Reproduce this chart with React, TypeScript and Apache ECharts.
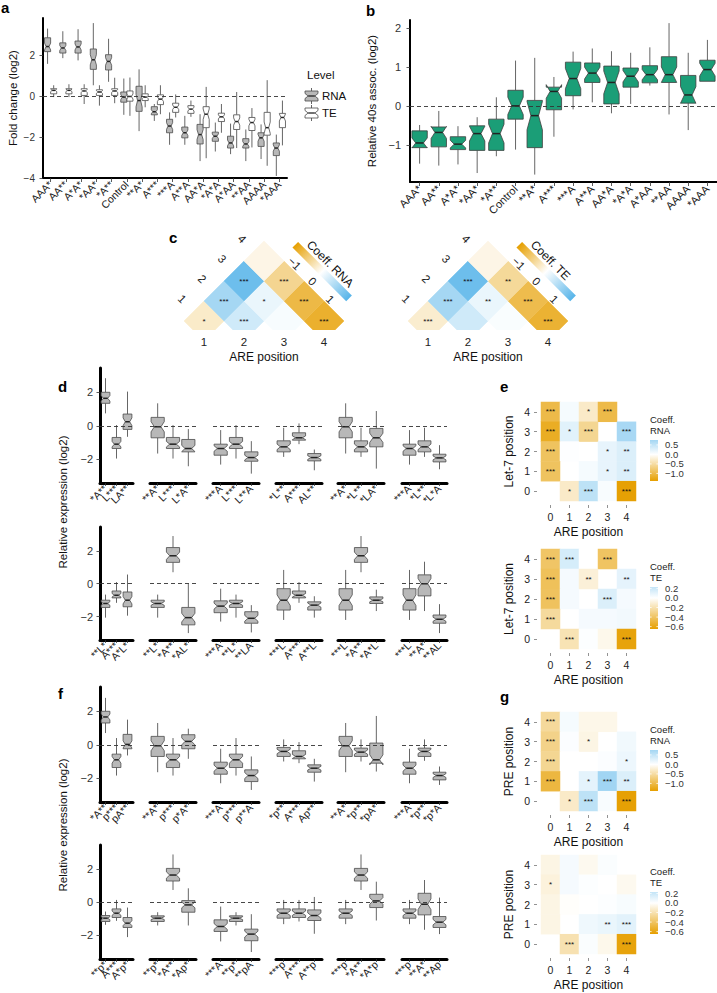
import React, { useEffect, useRef } from "react";
import * as echarts from "echarts";

const FONT = '"Liberation Sans", Arial, Helvetica, sans-serif';
const ORANGE = "#E69F00";
const BLUE = "#56B4E9";
const GREY_FILL = "#b8b8b8";
const GREEN_FILL = "#1b9e77";

// ---------------- panel a / b ----------------
const A_CATS = ["AAA*", "AA**", "A*A*", "*AA*", "*A**", "Control", "**A*", "A***", "***A", "A**A", "AA*A", "*A*A", "A*AA", "**AA", "AAAA", "*AAA"];
const A_TICKS = [-4, -2, 0, 2];
const B_TICKS = [-1, 0, 1, 2];
// each entry: [lower whisker, Q1, median, Q3, upper whisker]
const A_RNA = [
  [1.6, 2.2, 2.45, 2.88, 3.33],
  [1.88, 2.13, 2.38, 2.63, 3.2],
  [1.77, 2.13, 2.43, 2.72, 3.3],
  [0.55, 1.33, 1.8, 2.33, 3.6],
  [0.72, 1.3, 1.72, 2.05, 2.83],
  [-0.9, -0.28, -0.03, 0.22, 0.88],
  [-1.7, -0.73, -0.2, 0.5, 1.33],
  [-1.2, -0.9, -0.75, -0.5, -0.37],
  [-2.37, -1.78, -1.45, -1.12, -0.78],
  [-2.37, -2.03, -1.78, -1.5, -0.95],
  [-3.17, -2.33, -1.87, -1.37, -0.87],
  [-2.7, -2.2, -1.95, -1.75, -1.28],
  [-2.83, -2.53, -2.28, -1.95, -1.33],
  [-3.17, -2.53, -2.33, -2.07, -1.62],
  [-3.07, -2.45, -2.03, -1.78, -1.37],
  [-3.9, -2.9, -2.53, -2.28, -1.87],
];
const A_TE = [
  [-0.03, 0.13, 0.3, 0.38, 0.55],
  [-0.03, 0.13, 0.3, 0.38, 0.6],
  [-0.37, 0.05, 0.27, 0.38, 0.6],
  [-0.45, 0.05, 0.22, 0.33, 0.55],
  [-0.33, 0.05, 0.27, 0.38, 0.92],
  [-0.95, -0.23, 0, 0.27, 0.93],
  [-0.53, -0.2, -0.03, 0.13, 0.55],
  [-0.87, -0.4, -0.13, 0.08, 0.55],
  [-1.03, -0.78, -0.53, -0.33, 0.1],
  [-1.0, -0.83, -0.62, -0.45, -0.2],
  [-3.03, -1.53, -0.87, -0.5, 0.47],
  [-1.78, -1.23, -1.0, -0.82, -0.37],
  [-2.53, -1.62, -1.23, -0.9, 0.22],
  [-2.5, -1.67, -1.28, -1.03, -0.57],
  [-3.4, -1.9, -1.53, -0.78, 0.8],
  [-2.4, -1.53, -1.03, -0.83, -0.2],
];
const B_40S = [
  [-1.48, -1.07, -0.95, -0.64, -0.49],
  [-1.53, -1.05, -0.68, -0.54, -0.13],
  [-1.5, -1.12, -0.98, -0.79, -0.52],
  [-1.72, -1.14, -0.71, -0.51, -0.29],
  [-1.29, -1.14, -0.71, -0.34, 0.22],
  [-1.12, -0.34, 0, 0.4, 1.16],
  [-1.76, -1.07, -0.25, 0.14, 1.23],
  [-0.79, -0.1, 0.37, 0.48, 0.74],
  [-0.09, 0.26, 0.7, 1.12, 1.39],
  [0.09, 0.6, 0.84, 1.1, 1.47],
  [-0.19, 0.05, 0.6, 1.02, 1.4],
  [0.05, 0.48, 0.76, 0.97, 1.36],
  [0.52, 0.59, 0.8, 1.03, 1.5],
  [-0.22, 0.6, 0.8, 1.26, 2.12],
  [-0.62, 0.07, 0.28, 0.78, 1.36],
  [0.63, 0.63, 0.93, 1.17, 1.69],
];

// ---------------- panel c ----------------
// [row, col, coefficient, stars]
const C_RNA = [
  [1, 1, -0.32, "*"], [2, 2, 0.43, "***"], [3, 3, 0.07, ""], [4, 4, -1.23, "***"],
  [1, 2, 0.8, "***"], [2, 3, 0.19, "*"], [3, 4, -1.09, "***"],
  [1, 3, 1.3, "***"], [2, 4, -0.65, "***"],
  [1, 4, -0.15, ""],
];
const C_TE = [
  [1, 1, -0.28, "***"], [2, 2, 0.43, ""], [3, 3, 0.05, ""], [4, 4, -1.2, "***"],
  [1, 2, 0.8, "***"], [2, 3, 0.19, "**"], [3, 4, -1.05, "***"],
  [1, 3, 1.3, "***"], [2, 4, -0.6, "**"],
  [1, 4, -0.15, ""],
];
const C_POSITIONS = ["1", "2", "3", "4"];
const C_LEGEND_TICKS = [-1, 0, 1];
const C_LIMIT = 1.5;

// ---------------- panels d / f ----------------
const D_TOP_LABELS = [
  ["*A**", "L***", "LA**"], ["**A*", "L***", "L*A*"], ["***A", "L***", "L**A"],
  ["*L**", "A***", "AL**"], ["**A*", "*L**", "*LA*"], ["***A", "*L**", "*L*A"],
];
const D_TOP_STATS = [
  [[0.74, 1.34, 1.64, 2.0, 2.84], [-1.96, -1.36, -1.1, -0.7, 0.04], [-0.66, -0.22, 0.24, 0.7, 2.04]],
  [[-1.66, -0.72, -0.06, 0.5, 1.34], [-1.96, -1.36, -1.1, -0.7, 0.04], [-2.42, -1.56, -1.36, -0.82, -0.2]],
  [[-2.32, -1.76, -1.36, -1.1, -0.26], [-1.96, -1.36, -1.1, -0.7, 0.04], [-2.86, -2.12, -1.9, -1.56, -0.92]],
  [[-1.86, -1.56, -1.26, -0.9, -0.12], [-1.1, -0.86, -0.72, -0.42, 0.14], [-2.66, -2.1, -1.9, -1.66, -1.42]],
  [[-1.66, -0.72, -0.06, 0.5, 1.34], [-1.86, -1.56, -1.26, -0.9, -0.12], [-2.56, -1.26, -0.72, -0.16, 0.88]],
  [[-2.32, -1.76, -1.36, -1.1, -0.26], [-1.86, -1.56, -1.26, -0.9, -0.12], [-2.6, -2.16, -1.92, -1.7, -1.16]],
];
const D_BOT_LABELS = [
  ["**L*", "A***", "A*L*"], ["**L*", "*A**", "*AL*"], ["***A", "**L*", "**LA"],
  ["***L", "A***", "A**L"], ["***L", "*A**", "*A*L"], ["***L", "**A*", "**AL"],
];
const D_BOT_STATS = [
  [[-2.06, -1.44, -1.2, -1.0, -0.66], [-1.16, -0.86, -0.7, -0.44, 0.1], [-1.94, -1.4, -1.0, -0.5, 0.56]],
  [[-2.06, -1.44, -1.2, -1.0, -0.66], [0.7, 1.3, 1.7, 2.2, 2.9], [-3.0, -2.5, -2.06, -1.44, 0]],
  [[-2.3, -1.76, -1.36, -1.04, -0.3], [-2.06, -1.44, -1.2, -1.0, -0.66], [-2.96, -2.4, -2.1, -1.7, -1.3]],
  [[-2.2, -1.6, -1.0, -0.3, 0.84], [-1.16, -0.86, -0.7, -0.44, 0.1], [-2.06, -1.6, -1.3, -1.1, -0.76]],
  [[-2.2, -1.6, -1.0, -0.3, 0.84], [0.7, 1.3, 1.7, 2.2, 2.9], [-1.66, -1.2, -1.0, -0.8, -0.36]],
  [[-2.2, -1.6, -1.0, -0.3, 0.84], [-1.66, -0.74, 0, 0.54, 1.34], [-3.0, -2.4, -2.16, -1.9, -1.24]],
];
const F_TOP_LABELS = [
  ["*A**", "p***", "pA**"], ["**A*", "p***", "p*A*"], ["***A", "p***", "p**A"],
  ["*p**", "A***", "Ap**"], ["**A*", "*p**", "*pA*"], ["***A", "*p**", "*p*A"],
];
const F_TOP_STATS = [
  [[0.7, 1.3, 1.66, 2.0, 2.8], [-1.84, -1.36, -0.9, -0.56, 0.4], [-0.64, -0.24, 0.02, 0.62, 1.5]],
  [[-1.64, -0.7, -0.06, 0.5, 1.3], [-1.84, -1.36, -0.9, -0.56, 0.4], [-0.84, -0.24, 0.2, 0.6, 0.96]],
  [[-2.3, -1.76, -1.4, -1.04, -0.24], [-1.84, -1.36, -0.9, -0.56, 0.4], [-2.7, -2.2, -1.84, -1.5, -0.7]],
  [[-1.0, -0.7, -0.4, -0.16, 0.32], [-1.1, -0.84, -0.7, -0.36, 0.16], [-2.2, -1.64, -1.4, -1.2, -0.84]],
  [[-1.64, -0.7, -0.06, 0.5, 1.3], [-1.0, -0.7, -0.44, -0.2, 0.32], [-1.6, -1.1, -0.9, 0.1, 1.72]],
  [[-2.3, -1.76, -1.4, -1.04, -0.24], [-0.96, -0.7, -0.4, -0.2, 0.32], [-2.4, -2.1, -1.84, -1.64, -1.3]],
];
const F_BOT_LABELS = [
  ["**p*", "A***", "A*p*"], ["**p*", "*A**", "*Ap*"], ["***A", "**p*", "**pA"],
  ["***p", "A***", "A**p"], ["***p", "*A**", "*A*p"], ["***p", "**A*", "**Ap"],
];
const F_BOT_STATS = [
  [[-1.36, -1.16, -0.96, -0.8, -0.56], [-1.12, -0.92, -0.66, -0.4, 0.14], [-2.1, -1.52, -1.26, -0.92, -0.32]],
  [[-1.4, -1.16, -0.96, -0.82, -0.6], [0.74, 1.28, 1.64, 2.04, 2.88], [-1.4, -0.6, -0.16, 0.1, 0.84]],
  [[-2.36, -1.76, -1.46, -1.06, -0.26], [-1.4, -1.16, -0.96, -0.82, -0.6], [-3.0, -2.32, -1.92, -1.62, -0.72]],
  [[-1.32, -0.96, -0.66, -0.4, 0.14], [-1.16, -0.92, -0.66, -0.4, 0.14], [-1.9, -1.1, -0.8, -0.46, 0.32]],
  [[-1.32, -0.96, -0.66, -0.4, 0.14], [0.74, 1.28, 1.64, 2.04, 2.88], [-1.1, -0.32, 0.08, 0.48, 1.24]],
  [[-1.32, -0.96, -0.66, -0.4, 0.14], [-1.66, -0.76, -0.12, 0.54, 1.34], [-1.92, -1.52, -1.2, -0.86, 0.28]],
];
const DF_TICKS = [-2, 0, 2];

// ---------------- panels e / g ----------------
const POSITIONS = ["0", "1", "2", "3", "4"];
// [ARE position, second element position, coefficient, stars]
const E_RNA = [
  [0, 4, -1.0, "***"], [1, 4, 0.08, ""], [2, 4, -0.3, "*"], [3, 4, -1.0, "***"],
  [0, 3, -1.2, "***"], [1, 3, 0.25, "*"], [2, 3, -0.6, "***"], [4, 3, 0.72, "***"],
  [0, 2, -0.88, "***"], [1, 2, 0.02, ""], [3, 2, 0.2, "*"], [4, 2, 0.3, "**"],
  [0, 1, -0.88, "***"], [2, 1, 0.08, ""], [3, 1, 0.2, "*"], [4, 1, 0.3, "**"],
  [1, 0, -0.3, "*"], [2, 0, 0.55, "***"], [3, 0, 0.06, ""], [4, 0, -1.38, "***"],
];
const E_TE = [
  [0, 4, -0.39, "***"], [1, 4, 0.16, "***"], [2, 4, 0.0, ""], [3, 4, -0.4, "***"],
  [0, 3, -0.42, "***"], [1, 3, 0.04, ""], [2, 3, -0.1, "**"], [4, 3, 0.1, "**"],
  [0, 2, -0.41, "***"], [1, 2, 0.04, ""], [3, 2, 0.14, "***"], [4, 2, 0.04, ""],
  [0, 1, -0.25, "***"], [2, 1, 0.04, ""], [3, 1, 0.04, ""], [4, 1, 0.05, ""],
  [1, 0, -0.19, "***"], [2, 0, 0.01, ""], [3, 0, -0.05, ""], [4, 0, -0.62, "***"],
];
const G_RNA = [
  [0, 4, -0.55, "***"], [1, 4, 0.08, ""], [2, 4, -0.12, ""], [3, 4, -0.12, ""],
  [0, 3, -0.65, "***"], [1, 3, 0.03, ""], [2, 3, -0.15, "*"], [4, 3, 0.12, ""],
  [0, 2, -0.6, "***"], [1, 2, 0.0, ""], [3, 2, 0.03, ""], [4, 2, 0.15, "*"],
  [0, 1, -1.05, "***"], [2, 1, 0.22, "*"], [3, 1, 0.78, "***"], [4, 1, 0.3, "**"],
  [1, 0, -0.3, "*"], [2, 0, 0.55, "***"], [3, 0, 0.06, ""], [4, 0, -1.38, "***"],
];
const G_TE = [
  [0, 4, -0.07, ""], [1, 4, 0.04, ""], [2, 4, -0.04, ""], [3, 4, 0.02, ""],
  [0, 3, -0.09, "*"], [1, 3, 0.04, ""], [2, 3, 0.01, ""], [4, 3, -0.04, ""],
  [0, 2, -0.07, ""], [1, 2, -0.01, ""], [3, 2, 0.01, ""], [4, 2, 0.03, ""],
  [0, 1, -0.07, ""], [2, 1, 0.06, ""], [3, 1, 0.08, "**"], [4, 1, 0.11, "***"],
  [1, 0, -0.2, "***"], [2, 0, 0.02, ""], [3, 0, -0.05, ""], [4, 0, -0.62, "***"],
];
const RNA_RANGE = [-1.4, 0.76];
const TE_RANGE = [-0.65, 0.23];
const RNA_LEGEND_TICKS = [0.5, 0.0, -0.5, -1.0];
const TE_LEGEND_TICKS = [0.2, 0.0, -0.2, -0.4, -0.6];

// ---------------- helpers ----------------
const fmt = (v: number) => (v < 0 ? "\u2212" + Math.abs(v) : String(v));
const fmt1 = (v: number) => (v < 0 ? "\u2212" + Math.abs(v).toFixed(1) : v.toFixed(1));

function hexRgb(h: string) {
  const n = parseInt(h.slice(1), 16);
  return [(n >> 16) & 255, (n >> 8) & 255, n & 255];
}
function mix(a: string, b: string, t: number) {
  const A = hexRgb(a), B = hexRgb(b);
  const c = A.map((x, i) => Math.round(x + (B[i] - x) * t));
  return `rgb(${c[0]},${c[1]},${c[2]})`;
}
function divColor(v: number, M: number) {
  const t = Math.max(-1, Math.min(1, v / M));
  return t < 0 ? mix("#ffffff", ORANGE, -t) : mix("#ffffff", BLUE, t);
}

function makeBoxRender(offset: number, widthFrac: number, fill: string, stroke: string, notchK: number) {
  return (params: any, api: any) => {
    const i = api.value(0);
    const lo = api.value(1), q1 = api.value(2), md = api.value(3), q3 = api.value(4), hi = api.value(5);
    const band = api.size([1, 0])[0];
    const cx = api.coord([i, md])[0] + offset * band;
    const hw = (widthFrac * band) / 2;
    const y = (v: number) => api.coord([i, v])[1];
    const nk = notchK * (q3 - q1);
    const L = cx - hw, R = cx + hw, ind = hw * 0.5;
    const yq1 = y(q1), yq3 = y(q3), ymd = y(md), ynu = y(md + nk), ynl = y(md - nk);
    const pts = [[L, yq3], [L, ynu], [L + ind, ymd], [L, ynl], [L, yq1], [R, yq1], [R, ynl], [R - ind, ymd], [R, ynu], [R, yq3]];
    return {
      type: "group",
      children: [
        { type: "line", shape: { x1: cx, y1: yq3, x2: cx, y2: y(hi) }, style: { stroke: "#555", lineWidth: 0.9 } },
        { type: "line", shape: { x1: cx, y1: yq1, x2: cx, y2: y(lo) }, style: { stroke: "#555", lineWidth: 0.9 } },
        { type: "polygon", shape: { points: pts }, style: { fill, stroke, lineWidth: 0.8 } },
        { type: "line", shape: { x1: L + ind, y1: ymd, x2: R - ind, y2: ymd }, style: { stroke: "#222", lineWidth: 1.5 } },
      ],
    };
  };
}

function boxSeries(idx: number, stats: number[][], offset: number, widthFrac: number, fill: string, stroke: string, notchK: number, zero: boolean) {
  const s: any = {
    type: "custom",
    xAxisIndex: idx,
    yAxisIndex: idx,
    silent: true,
    z: 3,
    renderItem: makeBoxRender(offset, widthFrac, fill, stroke, notchK),
    data: stats.map((st, k) => [k, ...st]),
    encode: { x: 0, y: [1, 2, 3, 4, 5] },
  };
  if (zero) {
    s.markLine = {
      silent: true,
      symbol: ["none", "none"],
      label: { show: false },
      lineStyle: { type: [4, 3], color: "#333", width: 0.9 },
      data: [{ yAxis: 0 }],
      animation: false,
    };
  }
  return s;
}

function catAxis(data: string[], fontSize: number, lineWidth: number, tickLen: number, margin: number) {
  return {
    type: "category",
    data,
    axisLine: { show: true, onZero: false, lineStyle: { color: "#000", width: lineWidth } },
    axisTick: { show: true, alignWithLabel: true, length: tickLen, lineStyle: { color: "#333", width: 0.8 } },
    axisLabel: { rotate: 45, interval: 0, fontSize, margin, color: "#1a1a1a", fontFamily: FONT },
    splitLine: { show: false },
  };
}
function valAxis(min: number, max: number, ticks: number[], o: any) {
  return {
    type: "value",
    min,
    max,
    show: o.show !== false,
    name: o.name,
    nameLocation: "middle",
    nameGap: o.nameGap,
    nameTextStyle: { fontSize: 11.5, color: "#111", fontFamily: FONT },
    axisLine: { show: true, onZero: false, lineStyle: { color: "#000", width: o.lineWidth } },
    axisTick: { show: true, length: 3.5, customValues: ticks, lineStyle: { color: "#333", width: 0.8 } },
    axisLabel: { customValues: ticks, formatter: fmt, fontSize: o.fontSize, color: "#333", margin: o.margin, fontFamily: FONT },
    splitLine: { show: false },
  };
}

function txt(text: string, x: number, y: number, o: any = {}) {
  return {
    type: "text",
    x,
    y,
    rotation: o.rotation || 0,
    style: {
      text,
      fontSize: o.fontSize || 11,
      fontWeight: o.fontWeight || "normal",
      fontFamily: FONT,
      fill: o.fill || "#111",
      align: o.align || "left",
      textAlign: o.align || "left",
      verticalAlign: o.va || "middle",
      textVerticalAlign: o.va || "middle",
    },
  };
}

function buildOption() {
  const grid: any[] = [], xAxis: any[] = [], yAxis: any[] = [], series: any[] = [], visualMap: any[] = [], graphic: any[] = [];
  const add = (g: any, x: any, y: any) => {
    grid.push(g);
    xAxis.push({ ...x, gridIndex: grid.length - 1 });
    yAxis.push({ ...y, gridIndex: grid.length - 1 });
    return grid.length - 1;
  };

  // ---- a ----
  const ia = add(
    { left: 43, top: 18, width: 244, height: 160 },
    catAxis(A_CATS, 10.5, 2, 4, 5),
    valAxis(-4, 3.85, A_TICKS, { name: "Fold change (log2)", nameGap: 24, fontSize: 10, lineWidth: 2, margin: 8 })
  );
  series.push(boxSeries(ia, A_RNA, -0.2, 0.4, GREY_FILL, "#4a4a4a", 0.25, true));
  series.push(boxSeries(ia, A_TE, 0.2, 0.4, "#ffffff", "#4a4a4a", 0.25, false));

  // ---- b ----
  const ib = add(
    { left: 410, top: 20, width: 307, height: 162 },
    catAxis(A_CATS, 11, 2, 4, 5),
    valAxis(-1.95, 2.2, B_TICKS, { name: "Relative 40s assoc. (log2)", nameGap: 32, fontSize: 11, lineWidth: 2, margin: 9 })
  );
  series.push(boxSeries(ib, B_40S, 0, 0.8, GREEN_FILL, "#3d3d3d", 0.3, true));

  // ---- d / f ----
  const DF_LAYOUT = [
    { top: 368, height: 115 },
    { top: 527, height: 113 },
    { top: 687, height: 115 },
    { top: 845, height: 114 },
  ];
  const DF_DATA = [
    [D_TOP_LABELS, D_TOP_STATS],
    [D_BOT_LABELS, D_BOT_STATS],
    [F_TOP_LABELS, F_TOP_STATS],
    [F_BOT_LABELS, F_BOT_STATS],
  ];
  const FACET_X = [[100, 33], [150, 46], [213, 46], [276, 46], [338, 46], [402, 45]];
  DF_LAYOUT.forEach((row, r) => {
    const [labels, stats] = DF_DATA[r] as any;
    FACET_X.forEach(([left, width], k) => {
      const idx = add(
        { left, width, top: row.top, height: row.height },
        catAxis(labels[k], 10.5, 3, 3, 4),
        valAxis(-3.42, 3.45, DF_TICKS, { show: k === 0, fontSize: 11, lineWidth: 3, margin: 7 })
      );
      series.push(boxSeries(idx, stats[k], 0, k === 0 ? 0.8 : 0.86, GREY_FILL, "#4a4a4a", 0.25, true));
    });
  });

  // ---- e / g heatmaps ----
  const HM = [
    { top: 402, height: 99, data: E_RNA, name: "Let-7 position", range: RNA_RANGE, ticks: RNA_LEGEND_TICKS, title: "RNA", barTop: 440, barH: 41 },
    { top: 549, height: 100, data: E_TE, name: "Let-7 position", range: TE_RANGE, ticks: TE_LEGEND_TICKS, title: "TE", barTop: 587, barH: 42 },
    { top: 712, height: 99, data: G_RNA, name: "PRE position", range: RNA_RANGE, ticks: RNA_LEGEND_TICKS, title: "RNA", barTop: 750, barH: 41 },
    { top: 855, height: 99, data: G_TE, name: "PRE position", range: TE_RANGE, ticks: TE_LEGEND_TICKS, title: "TE", barTop: 892, barH: 42 },
  ];
  HM.forEach((h) => {
    const idx = add(
      { left: 541, width: 95, top: h.top, height: h.height },
      {
        type: "category", data: POSITIONS, offset: 4,
        name: "ARE position", nameLocation: "middle", nameGap: 21,
        nameTextStyle: { fontSize: 12, color: "#111", fontFamily: FONT },
        axisLine: { show: false },
        axisTick: { show: true, alignWithLabel: true, length: 3, lineStyle: { color: "#777", width: 0.8 } },
        axisLabel: { fontSize: 10.5, color: "#222", margin: 6, fontFamily: FONT },
        splitLine: { show: false },
      },
      {
        type: "category", data: POSITIONS, offset: 4,
        name: h.name, nameLocation: "middle", nameGap: 22,
        nameTextStyle: { fontSize: 12, color: "#111", fontFamily: FONT },
        axisLine: { show: false },
        axisTick: { show: true, alignWithLabel: true, length: 3, lineStyle: { color: "#777", width: 0.8 } },
        axisLabel: { fontSize: 10.5, color: "#222", margin: 7, fontFamily: FONT },
        splitLine: { show: false },
      }
    );
    const src = h.data;
    series.push({
      type: "heatmap",
      xAxisIndex: idx,
      yAxisIndex: idx,
      data: src.map((d: any) => [d[0], d[1], d[2]]),
      silent: true,
      itemStyle: { borderWidth: 0 },
      label: { show: true, formatter: (p: any) => src[p.dataIndex][3], fontSize: 8, color: "#111", fontFamily: FONT },
      emphasis: { disabled: true },
    });
    const M = Math.max(-h.range[0], h.range[1]);
    visualMap.push({
      type: "continuous", show: false, min: -M, max: M, dimension: 2,
      seriesIndex: series.length - 1,
      inRange: { color: [ORANGE, "#ffffff", BLUE] },
    });
    // legend bar
    const [mn, mx] = h.range;
    const zeroPos = mx / (mx - mn);
    graphic.push(txt("Coeff.", 650, h.barTop - 21, { fontSize: 9.5, fill: "#222" }));
    graphic.push(txt(h.title, 650, h.barTop - 10, { fontSize: 9.5, fill: "#222" }));
    graphic.push({
      type: "rect",
      shape: { x: 650, y: h.barTop, width: 8, height: h.barH },
      style: {
        fill: new echarts.graphic.LinearGradient(0, 0, 0, 1, [
          { offset: 0, color: divColor(mx, M) },
          { offset: zeroPos, color: "#ffffff" },
          { offset: 1, color: divColor(mn, M) },
        ]),
      },
    });
    h.ticks.forEach((v: number) => {
      const yy = h.barTop + ((mx - v) / (mx - mn)) * h.barH;
      graphic.push(txt(fmt1(v), 665, yy, { fontSize: 9.5, fill: "#333" }));
      graphic.push({ type: "line", shape: { x1: 650, y1: yy, x2: 651.6, y2: yy }, style: { stroke: "#fff", lineWidth: 0.8 } });
      graphic.push({ type: "line", shape: { x1: 656.4, y1: yy, x2: 658, y2: yy }, style: { stroke: "#fff", lineWidth: 0.8 } });
    });
  });

  // ---- c triangular heatmaps ----
  const C_LAYOUT = [
    { x0: 164, data: C_RNA, title: "Coeff. RNA" },
    { x0: 388, data: C_TE, title: "Coeff. TE" },
  ];
  C_LAYOUT.forEach((c) => {
    const idx = add(
      { left: c.x0 + 20, top: 241, width: 160, height: 89 },
      { type: "value", min: 1, max: 9, show: false },
      { type: "value", min: -0.45, max: 4, show: false }
    );
    const cells = c.data;
    series.push({
      type: "custom",
      xAxisIndex: idx,
      yAxisIndex: idx,
      clip: true,
      silent: true,
      data: cells.map((d: any) => [d[0], d[1], d[2]]),
      renderItem: (params: any, api: any) => {
        const r = api.value(0), col = api.value(1);
        const cx = r + col, cy = col - r;
        const p = (a: number, b: number) => api.coord([a, b]);
        const ctr = p(cx, cy);
        const color = api.visual("color");
        return {
          type: "group",
          children: [
            { type: "polygon", shape: { points: [p(cx - 1, cy), p(cx, cy + 1), p(cx + 1, cy), p(cx, cy - 1)] }, style: { fill: color, stroke: color, lineWidth: 0.5 } },
            { type: "text", x: ctr[0], y: ctr[1], style: { text: cells[params.dataIndex][3], fontSize: 8, fontFamily: FONT, fill: "#111", align: "center", verticalAlign: "middle", textAlign: "center", textVerticalAlign: "middle" } },
          ],
        };
      },
    });
    visualMap.push({
      type: "continuous", show: false, min: -C_LIMIT, max: C_LIMIT, dimension: 2,
      seriesIndex: series.length - 1,
      inRange: { color: [ORANGE, "#ffffff", BLUE] },
    });
    // axis labels
    C_POSITIONS.forEach((lab, k) => {
      const n = k + 1;
      graphic.push(txt(lab, c.x0 + 40 * n, 342, { fontSize: 11.5, align: "center", fill: "#222" }));
      graphic.push(txt(lab, c.x0 + 20 * n - 2, 321 - 20 * n - 2, { fontSize: 11.5, align: "center", fill: "#222", rotation: -Math.PI / 4 }));
    });
    graphic.push(txt("ARE position", c.x0 + 100, 357, { fontSize: 12, align: "center" }));
    // legend (rotated colour bar)
    const L = 76, unit = 25.3, mid = 38;
    graphic.push({
      type: "group",
      x: c.x0 + 132,
      y: 244,
      rotation: -Math.PI / 4,
      children: [
        {
          type: "rect",
          shape: { x: 0, y: -3, width: L, height: 8 },
          style: {
            fill: new echarts.graphic.LinearGradient(0, 0, 1, 0, [
              { offset: 0, color: ORANGE },
              { offset: 0.5, color: "#ffffff" },
              { offset: 1, color: BLUE },
            ]),
          },
        },
        txt(c.title, 8, -10, { fontSize: 12, fill: "#111" }),
        ...C_LEGEND_TICKS.map((v) => txt(fmt(v), mid + v * unit, 15, { fontSize: 11.5, align: "center", fill: "#222" })),
      ],
    });
  });

  // ---- letters & misc text ----
  graphic.push(txt("a", 1, 0, { fontSize: 15, fontWeight: "bold", va: "top", fill: "#000" }));
  graphic.push(txt("b", 366, 3, { fontSize: 15, fontWeight: "bold", va: "top", fill: "#000" }));
  graphic.push(txt("c", 169, 230, { fontSize: 15, fontWeight: "bold", va: "top", fill: "#000" }));
  graphic.push(txt("d", 58, 379, { fontSize: 15, fontWeight: "bold", va: "top", fill: "#000" }));
  graphic.push(txt("e", 500, 379, { fontSize: 15, fontWeight: "bold", va: "top", fill: "#000" }));
  graphic.push(txt("f", 58, 686, { fontSize: 15, fontWeight: "bold", va: "top", fill: "#000" }));
  graphic.push(txt("g", 500, 689, { fontSize: 15, fontWeight: "bold", va: "top", fill: "#000" }));
  graphic.push(txt("Relative expression (log2)", 63, 502, { fontSize: 11.5, align: "center", rotation: Math.PI / 2 }));
  graphic.push(txt("Relative expression (log2)", 63, 825, { fontSize: 11.5, align: "center", rotation: Math.PI / 2 }));

  // legend for a
  graphic.push(txt("Level", 307, 75, { fontSize: 11.5 }));
  [["RNA", GREY_FILL, 96], ["TE", "#ffffff", 113]].forEach(([lab, fill, cy]: any) => {
    const L = 305, R = 318, ind = 3.2;
    graphic.push({ type: "line", shape: { x1: 311.5, y1: cy - 8, x2: 311.5, y2: cy + 8 }, style: { stroke: "#555", lineWidth: 0.9 } });
    graphic.push({
      type: "polygon",
      shape: { points: [[L, cy - 5], [L, cy - 2.5], [L + ind, cy], [L, cy + 2.5], [L, cy + 5], [R, cy + 5], [R, cy + 2.5], [R - ind, cy], [R, cy - 2.5], [R, cy - 5]] },
      style: { fill, stroke: "#4a4a4a", lineWidth: 0.8 },
    });
    graphic.push({ type: "line", shape: { x1: L + ind, y1: cy, x2: R - ind, y2: cy }, style: { stroke: "#222", lineWidth: 1.3 } });
    graphic.push(txt(lab, 322, cy, { fontSize: 11.5 }));
  });

  return {
    animation: false,
    backgroundColor: "#ffffff",
    textStyle: { fontFamily: FONT },
    grid,
    xAxis,
    yAxis,
    series,
    visualMap,
    graphic: { elements: graphic },
  };
}

export default function App() {
  const ref = useRef<HTMLDivElement>(null);
  useEffect(() => {
    const chart = echarts.init(ref.current as HTMLDivElement, undefined, { renderer: "svg" });
    chart.setOption(buildOption() as any);
    return () => chart.dispose();
  }, []);
  return <div ref={ref} style={{ position: "fixed", left: 0, top: 0, width: 717, height: 993, background: "#fff" }} />;
}
